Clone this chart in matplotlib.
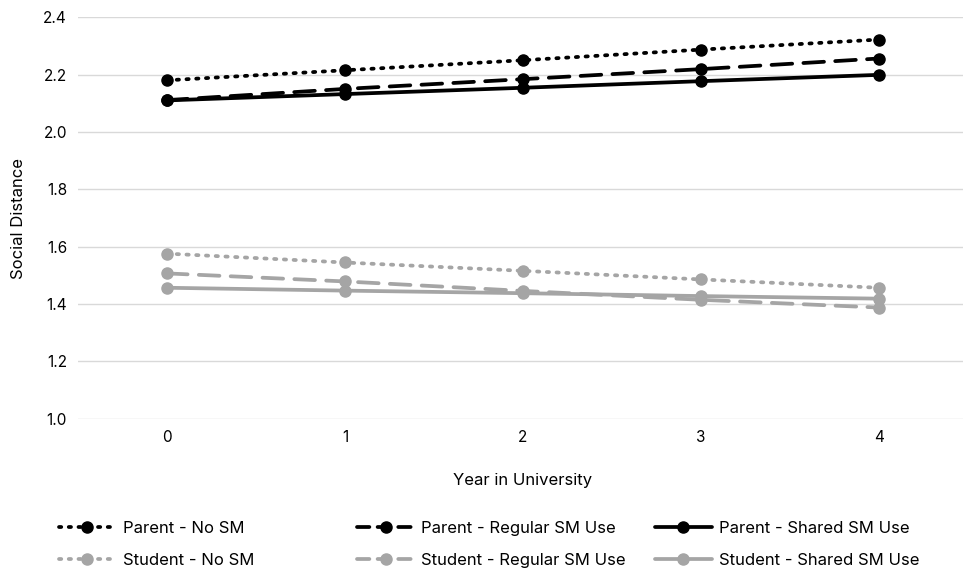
import matplotlib.pyplot as plt
from matplotlib.lines import Line2D

plt.rcParams['font.family'] = ['Inter', 'DejaVu Sans']

years = [0, 1, 2, 3, 4]
y_ticks = [1.0, 1.2, 1.4, 1.6, 1.8, 2.0, 2.2, 2.4]

parent_no_sm = [2.18, 2.215, 2.25, 2.287, 2.322]
parent_regular = [2.111, 2.150, 2.184, 2.219, 2.256]
parent_shared = [2.110, 2.132, 2.154, 2.177, 2.199]
student_no_sm = [1.576, 1.545, 1.516, 1.486, 1.457]
student_regular = [1.507, 1.479, 1.446, 1.415, 1.388]
student_shared = [1.457, 1.447, 1.438, 1.428, 1.419]

BLACK = '#000000'
GREY = '#A5A5A5'
DOT = (0, (0.6, 2.0))
DASH = (0, (5.5, 3.0))
DASH_LEG = (0, (3.3, 2.2))  # shorter dashes so the legend key shows gaps

series = [
    ("Parent - No SM", parent_no_sm, BLACK, DOT),
    ("Parent - Regular SM Use", parent_regular, BLACK, DASH),
    ("Parent - Shared SM Use", parent_shared, BLACK, '-'),
    ("Student - No SM", student_no_sm, GREY, DOT),
    ("Student - Regular SM Use", student_regular, GREY, DASH),
    ("Student - Shared SM Use", student_shared, GREY, '-'),
]

fig = plt.figure(figsize=(9.63, 5.73), dpi=100)
ax = fig.add_axes([0.081, 0.269, 0.924, 0.701])

style = dict(linewidth=2.7, marker='o', markersize=8,
             dash_capstyle='round', solid_capstyle='round')
handles = []
for label, vals, color, ls in series:
    ax.plot(years, vals, color=color, linestyle=ls, zorder=3, **style)
    leg_ls = DASH_LEG if ls == DASH else ls
    handles.append(Line2D([], [], color=color, linestyle=leg_ls, **style))
labels = [s[0] for s in series]

ax.set_xlim(-0.5, 4.5)
ax.set_ylim(1.0, 2.4)
ax.set_xticks(years)
ax.set_yticks(y_ticks)
ax.set_yticklabels([f"{v:.1f}" for v in y_ticks])
ax.grid(axis='y', color='#D9D9D9', linewidth=1)
ax.set_axisbelow(True)
for s in ax.spines.values():
    s.set_visible(False)
ax.tick_params(length=0, labelsize=11, colors='#000000', pad=8)
ax.set_xlabel("Year in University", fontsize=12, labelpad=20)
ax.set_ylabel("Social Distance", fontsize=12, labelpad=12)

# legend: one small legend per column, parents on top, students below
col_x = [0.061, 0.371, 0.680]
for c in range(3):
    fig.legend([handles[c], handles[c + 3]], [labels[c], labels[c + 3]],
               loc='center left', bbox_to_anchor=(col_x[c], 0.05),
               frameon=False, fontsize=12, handlelength=3.4,
               handletextpad=0.45, labelspacing=1.0,
               borderaxespad=0, borderpad=0)

fig.savefig("out.png", dpi=100)
